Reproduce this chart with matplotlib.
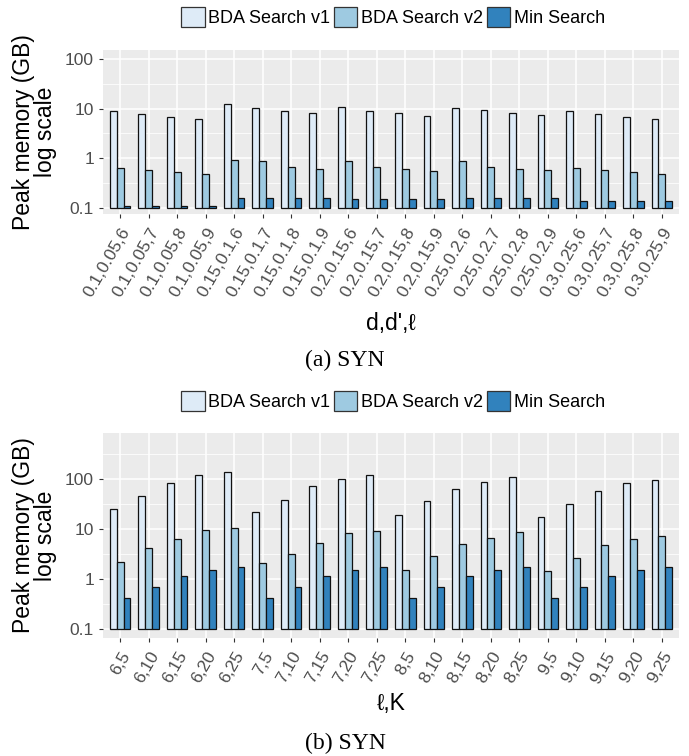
import numpy as np
import matplotlib
matplotlib.use('Agg')
import matplotlib.pyplot as plt
from matplotlib.patches import Patch
from matplotlib.ticker import FixedLocator, NullFormatter

# peak memory (GB) per parameter setting, panel (a): d,d',l
labels_a = ['0.1,0.05,6', '0.1,0.05,7', '0.1,0.05,8', '0.1,0.05,9',
            '0.15,0.1,6', '0.15,0.1,7', '0.15,0.1,8', '0.15,0.1,9',
            '0.2,0.15,6', '0.2,0.15,7', '0.2,0.15,8', '0.2,0.15,9',
            '0.25,0.2,6', '0.25,0.2,7', '0.25,0.2,8', '0.25,0.2,9',
            '0.3,0.25,6', '0.3,0.25,7', '0.3,0.25,8', '0.3,0.25,9']
v1_a = [9.0, 7.7, 6.7, 6.1, 12.3, 10.2, 8.9, 8.1, 10.7, 8.9,
        8.1, 7.1, 10.5, 9.3, 8.1, 7.4, 8.9, 7.7, 6.7, 6.1]
v2_a = [0.65, 0.59, 0.54, 0.49, 0.92, 0.88, 0.68, 0.62, 0.88, 0.67,
        0.61, 0.55, 0.88, 0.67, 0.61, 0.58, 0.64, 0.58, 0.53, 0.48]
min_a = [0.111, 0.111, 0.111, 0.111, 0.159, 0.159, 0.159, 0.159, 0.152, 0.152,
         0.152, 0.152, 0.159, 0.159, 0.159, 0.159, 0.138, 0.138, 0.138, 0.138]

# panel (b): l,K
labels_b = ['6,5', '6,10', '6,15', '6,20', '6,25',
            '7,5', '7,10', '7,15', '7,20', '7,25',
            '8,5', '8,10', '8,15', '8,20', '8,25',
            '9,5', '9,10', '9,15', '9,20', '9,25']
v1_b = [25.1, 47.0, 85.7, 122, 138, 21.9, 39.2, 73.6, 101.6, 122,
        19.4, 36.3, 65.0, 89.8, 111, 17.7, 31.6, 57.5, 83.0, 97.0]
v2_b = [2.22, 4.17, 6.3, 9.5, 10.8, 2.12, 3.16, 5.41, 8.58, 9.4,
        1.56, 2.93, 5.0, 6.6, 9.0, 1.49, 2.67, 4.79, 6.3, 7.47]
min_b = [0.417, 0.69, 1.15, 1.56, 1.79, 0.417, 0.69, 1.15, 1.56, 1.79,
         0.417, 0.69, 1.15, 1.56, 1.79, 0.417, 0.69, 1.15, 1.56, 1.79]

series_names = ['BDA Search v1', 'BDA Search v2', 'Min Search']
colors = ['#DEEBF7', '#9ECAE1', '#3182BD']

sans = ['Liberation Sans', 'DejaVu Sans']
plt.rcParams['font.family'] = sans

W, H = 689, 756
fig = plt.figure(figsize=(W / 100, H / 100), dpi=100)


def panel(top, bottom, labels, series, ylim, xtitle, xpad, caption, legend_y, caption_y):
    ax = fig.add_axes([103 / W, 1 - bottom / H, 576 / W, (bottom - top) / H])
    ax.set_facecolor('#EBEBEB')
    for s in ax.spines.values():
        s.set_visible(False)
    x = np.arange(len(labels))
    bw = 0.24
    base = 0.1
    for k, vals in enumerate(series):
        vals = np.array(vals)
        ax.bar(x + (k - 1) * bw, vals - base, bottom=base, width=bw,
               color=colors[k], edgecolor='#111111', linewidth=0.9, zorder=3)
    ax.set_yscale('log')
    ax.set_ylim(*ylim)
    ax.set_xlim(-0.6, len(labels) - 0.4)
    ax.yaxis.set_major_locator(FixedLocator([0.1, 1, 10, 100]))
    ax.set_yticklabels(['0.1', '1', '10', '100'])
    ax.yaxis.set_minor_locator(FixedLocator([0.0316, 0.316, 3.16, 31.6, 316]))
    ax.yaxis.set_minor_formatter(NullFormatter())
    ax.set_xticks(x)
    ax.set_xticklabels(labels, rotation=60, ha='right', va='top',
                       rotation_mode='anchor')
    ax.tick_params(axis='both', which='major', colors='#333333', length=3,
                   width=0.8, labelsize=12.5, labelcolor='#4D4D4D')
    ax.tick_params(axis='x', pad=5)
    ax.tick_params(axis='y', which='minor', length=0)
    ax.grid(True, which='major', color='white', linewidth=1.1, zorder=0)
    ax.grid(True, which='minor', axis='y', color='white', linewidth=0.55, zorder=0)
    ax.set_axisbelow(True)
    ax.set_xlabel(xtitle, fontsize=16.5, color='black', labelpad=xpad)
    ax.set_ylabel('Peak memory (GB)\nlog scale', fontsize=16.5, color='black',
                  linespacing=0.95, labelpad=6)

    handles = [Patch(facecolor=c, edgecolor='#333333', linewidth=0.9) for c in colors]
    fig.legend(handles, series_names, loc='center', ncol=3,
               bbox_to_anchor=(393 / W, 1 - legend_y / H), frameon=False,
               fontsize=13, handlelength=1.3, handleheight=1.3,
               handletextpad=0.2, columnspacing=0.2, borderaxespad=0)
    fig.text(345 / W, 1 - caption_y / H, caption, ha='center', va='center',
             fontsize=17, family=['Liberation Serif', 'DejaVu Serif'])
    return ax


panel(50, 214, labels_a, [v1_a, v2_a, min_a], (0.0759, 151),
      "d,d',\u2113", 9, '(a) SYN', 17, 360)
panel(433, 638, labels_b, [v1_b, v2_b, min_b], (0.067, 843),
      '\u2113,K', 4, '(b) SYN', 401, 743)

fig.savefig('out.png', dpi=100)
